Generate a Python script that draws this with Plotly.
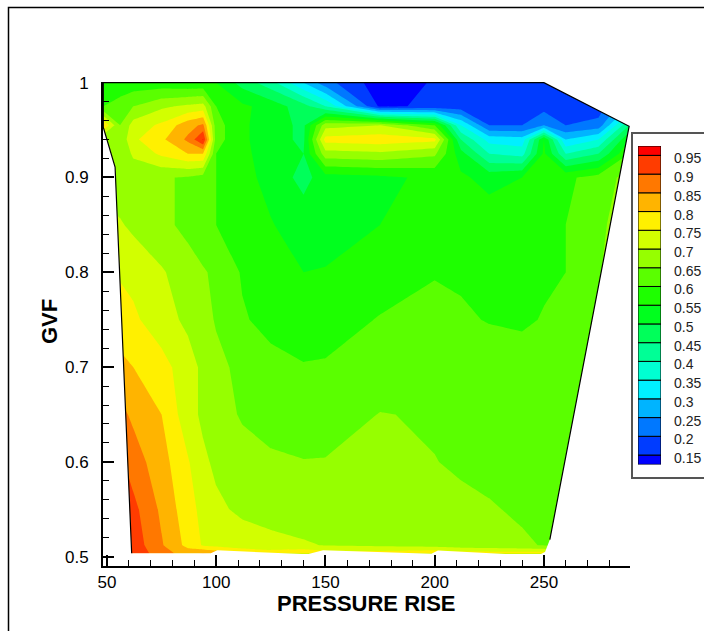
import plotly.graph_objects as go

# ---------------- data ----------------
pressure_rise = [48.3, 56, 62, 75, 87, 94, 100, 112, 125, 140, 150, 175, 200, 212, 225, 240, 250, 260, 275, 289.0]
gvf = [0.503, 0.512, 0.55, 0.6, 0.65, 0.7, 0.75, 0.8, 0.85, 0.9, 0.925, 0.94, 0.955, 0.975, 1.0]

z_0503 = [0.97, 0.96, 0.94, 0.87, 0.83, 0.86, 0.84, 0.79, 0.78, 0.80, 0.78, 0.78, 0.80, 0.78, 0.78, 0.78, 0.78, 0.70, 0.70, 0.70]
z_0512 = [0.98, 0.95, 0.93, 0.855, 0.785, 0.745, 0.735, 0.725, 0.715, 0.705, 0.698, 0.69, 0.68, 0.67, 0.665, 0.655, 0.648, 0.64, 0.64, 0.64]
z_0550 = [1.00, 0.96, 0.915, 0.84, 0.77, 0.735, 0.71, 0.69, 0.68, 0.675, 0.673, 0.668, 0.662, 0.658, 0.653, 0.645, 0.64, 0.635, 0.63, 0.63]
z_0600 = [0.95, 0.91, 0.875, 0.82, 0.755, 0.71, 0.69, 0.668, 0.658, 0.652, 0.653, 0.66, 0.651, 0.645, 0.64, 0.632, 0.628, 0.625, 0.625, 0.64]
z_0650 = [0.90, 0.865, 0.84, 0.80, 0.72, 0.69, 0.67, 0.645, 0.63, 0.618, 0.62, 0.652, 0.645, 0.64, 0.635, 0.628, 0.625, 0.628, 0.64, 0.68]
z_0700 = [0.84, 0.815, 0.80, 0.77, 0.72, 0.69, 0.665, 0.635, 0.615, 0.603, 0.605, 0.615, 0.625, 0.625, 0.62, 0.615, 0.62, 0.625, 0.645, 0.70]
z_0750 = [0.80, 0.77, 0.76, 0.72, 0.69, 0.67, 0.645, 0.605, 0.585, 0.575, 0.578, 0.603, 0.61, 0.605, 0.598, 0.595, 0.602, 0.61, 0.645, 0.70]
z_0800 = [0.77, 0.745, 0.735, 0.705, 0.675, 0.655, 0.64, 0.595, 0.565, 0.55, 0.552, 0.575, 0.598, 0.595, 0.59, 0.59, 0.595, 0.60, 0.645, 0.70]
z_0850 = [0.72, 0.705, 0.69, 0.665, 0.635, 0.615, 0.60, 0.575, 0.552, 0.535, 0.535, 0.55, 0.565, 0.575, 0.585, 0.59, 0.595, 0.60, 0.635, 0.69]
z_0900 = [0.68, 0.67, 0.66, 0.655, 0.645, 0.63, 0.60, 0.56, 0.54, 0.48, 0.53, 0.54, 0.56, 0.56, 0.53, 0.55, 0.58, 0.59, 0.62, 0.67]
z_0925 = [0.66, 0.65, 0.71, 0.76, 0.80, 0.80, 0.60, 0.56, 0.53, 0.50, 0.68, 0.69, 0.66, 0.52, 0.40, 0.38, 0.56, 0.40, 0.45, 0.60]
z_0940 = [0.65, 0.66, 0.74, 0.79, 0.86, 0.955, 0.62, 0.56, 0.52, 0.49, 0.77, 0.78, 0.765, 0.45, 0.33, 0.32, 0.55, 0.30, 0.35, 0.55]
z_0955 = [0.80, 0.65, 0.72, 0.76, 0.83, 0.86, 0.62, 0.56, 0.52, 0.49, 0.68, 0.70, 0.60, 0.35, 0.20, 0.20, 0.25, 0.20, 0.22, 0.45]
z_0975 = [0.60, 0.62, 0.65, 0.69, 0.71, 0.72, 0.60, 0.56, 0.53, 0.47, 0.40, 0.14, 0.16, 0.17, 0.18, 0.18, 0.18, 0.17, 0.17, 0.30]
z_1000 = [0.57, 0.57, 0.57, 0.57, 0.56, 0.56, 0.55, 0.48, 0.42, 0.30, 0.22, 0.12, 0.155, 0.16, 0.17, 0.17, 0.17, 0.17, 0.17, 0.20]

# boundary of the measured region (clockwise from bottom-left)
region_x = [61.3, 53.7, 48.3, 48.3, 250.0, 289.0, 252.7, 250.5, 247.0, 201.5, 198.5, 148.9, 141.8, 100.5, 97.5, 61.3]
region_y = [0.5036, 0.911, 0.953, 1.0, 1.0, 0.954, 0.518, 0.505, 0.501, 0.5065, 0.503, 0.5067, 0.5025, 0.5067, 0.5036, 0.5036]

level_values = [0.15, 0.2, 0.25, 0.3, 0.35, 0.4, 0.45, 0.5, 0.55, 0.6, 0.65, 0.7, 0.75, 0.8, 0.85, 0.9, 0.95]
level_labels = ["0.15", "0.2", "0.25", "0.3", "0.35", "0.4", "0.45", "0.5", "0.55", "0.6",
                "0.65", "0.7", "0.75", "0.8", "0.85", "0.9", "0.95"]
x_tick_vals = [50, 100, 150, 200, 250]
y_tick_vals = [0.5, 0.6, 0.7, 0.8, 0.9, 1.0]
y_tick_text = ["0.5", "0.6", "0.7", "0.8", "0.9", "1"]

# ---------------- style ----------------
band_colors = ["#0000FF", "#003CFF", "#0078FF", "#00B4FF", "#00F0FF", "#00FFD2", "#00FF96", "#00FF5A",
               "#00FF1E", "#1EFF00", "#5AFF00", "#96FF00", "#D2FF00", "#FFF000", "#FFB400", "#FF7800",
               "#FF3C00", "#FF0000"]
W, H = 704, 631
FONT = "Arial, Liberation Sans, Helvetica, sans-serif"


def fx(px):
    return px / W


def fy(py):
    return (H - py) / H


z = [z_0503, z_0512, z_0550, z_0600, z_0650, z_0700, z_0750, z_0800, z_0850,
     z_0900, z_0925, z_0940, z_0955, z_0975, z_1000]

# stepwise discrete colour scale (one flat step per contour band)
n = len(band_colors)
cscale = []
for j, c in enumerate(band_colors):
    cscale.append([max(0.0, (j - 0.5) / (n - 1)), c])
    cscale.append([min(1.0, (j + 0.5) / (n - 1)), c])

fig = go.Figure()
fig.add_trace(go.Contour(
    x=pressure_rise, y=gvf, z=z,
    contours=dict(start=level_values[0], end=level_values[-1], size=0.05,
                  coloring="fill", showlines=False),
    colorscale=cscale, showscale=False, line=dict(width=0, smoothing=0),
    hoverinfo="skip"))

# white mask outside the measured region (keyhole polygon)
ox = [30, 310, 310, 30, 30]
oy = [0.46, 0.46, 1.05, 1.05, 0.46]
mask_x = ox + region_x + [30]
mask_y = oy + region_y + [0.46]
fig.add_trace(go.Scatter(x=mask_x, y=mask_y, mode="lines", fill="toself",
                         fillcolor="white", line=dict(width=0, color="white"),
                         hoverinfo="skip"))
# outline of the region: left, top and right sides
fig.add_trace(go.Scatter(x=region_x[0:7], y=region_y[0:7], mode="lines",
                         line=dict(color="black", width=1.2), hoverinfo="skip"))

# legend bands
bases = [0.125] + level_values
tops = level_values + [0.975]
fig.add_trace(go.Bar(x=[0] * n, base=bases, y=[t - b for t, b in zip(tops, bases)],
                     width=1, marker=dict(color=band_colors, line=dict(color="black", width=1)),
                     xaxis="x2", yaxis="y2", hoverinfo="skip"))

annotations = []
for v, t in zip(level_values, level_labels):
    annotations.append(dict(x=fx(672), xref="paper", y=v, yref="y2", text=t, showarrow=False,
                            xanchor="left", yanchor="middle", yshift=-3,
                            font=dict(family=FONT, size=14, color="#222")))
annotations.append(dict(x=fx(366), y=fy(603), xref="paper", yref="paper",
                        text="<b>PRESSURE RISE</b>", showarrow=False,
                        xanchor="center", yanchor="middle",
                        font=dict(family=FONT, size=22, color="black")))
annotations.append(dict(x=fx(49), y=fy(321), xref="paper", yref="paper",
                        text="<b>GVF</b>", showarrow=False, textangle=-90,
                        xanchor="center", yanchor="middle",
                        font=dict(family=FONT, size=22, color="black")))

shapes = [
    dict(type="rect", xref="paper", yref="paper", x0=fx(632), x1=fx(712),
         y0=fy(478), y1=fy(133), line=dict(color="#555", width=2)),
    dict(type="rect", xref="paper", yref="paper", x0=fx(8.5), x1=fx(720),
         y0=fy(650), y1=fy(7.5), line=dict(color="black", width=1.5)),
]

fig.update_layout(
    width=W, height=H, margin=dict(l=0, r=0, t=0, b=0, pad=0),
    paper_bgcolor="white", plot_bgcolor="white", showlegend=False,
    xaxis=dict(domain=[fx(103), fx(630)], range=[48.17, 289.4], showline=True, linecolor="black",
               linewidth=2, ticks="inside", ticklen=11, tickwidth=2, tickcolor="black",
               tickvals=x_tick_vals, showgrid=False, zeroline=False, automargin=False,
               minor=dict(dtick=10, tick0=50, ticks="inside", ticklen=6, tickwidth=1, tickcolor="black"),
               tickfont=dict(family=FONT, size=17, color="black"), ticklabelstandoff=0),
    yaxis=dict(domain=[fy(566), fy(82)], range=[0.4902, 1.0007], showline=True,
               linecolor="black", linewidth=2, ticks="inside", ticklen=11, tickwidth=2,
               tickcolor="black", tickvals=y_tick_vals, ticktext=y_tick_text,
               showgrid=False, zeroline=False, automargin=False,
               minor=dict(dtick=0.02, tick0=0.5, ticks="inside", ticklen=6, tickwidth=1, tickcolor="black"),
               tickfont=dict(family=FONT, size=17, color="black"), ticklabelstandoff=9),
    xaxis2=dict(domain=[fx(638), fx(661)], range=[-0.5, 0.5], visible=False, anchor="y2",
                automargin=False),
    yaxis2=dict(domain=[fy(464.4), fy(146)], range=[0.125, 0.975], visible=False, anchor="x2",
                automargin=False),
    annotations=annotations, shapes=shapes,
)

fig.write_html("out.html")
